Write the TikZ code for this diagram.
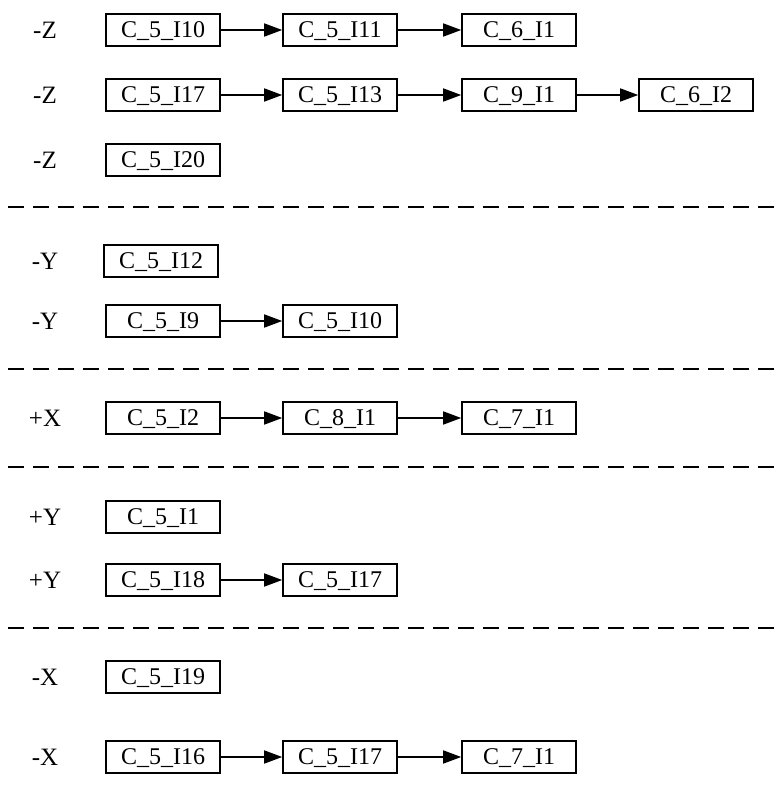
\documentclass[tikz,border=0pt]{standalone}
\usepackage{fontspec}
\setmainfont{Liberation Serif}
\usetikzlibrary{arrows.meta}
\begin{document}
\begin{tikzpicture}[x=1pt,y=-1pt,
 box/.style={draw,line width=1.6pt,minimum width=114pt,minimum height=32pt,inner sep=0pt,
   text height=15.5pt,text depth=0pt,font=\fontsize{24}{26}\selectfont},
 lab/.style={inner sep=0pt,text height=16.5pt,text depth=0pt,font=\fontsize{25}{28}\selectfont},
 arr/.style={-{Triangle[length=18pt,width=13pt]},line width=1.6pt},
 sep/.style={dash pattern=on 16pt off 9pt,line width=1.8pt}]
\useasboundingbox (0,0) rectangle (777,803);
% -Z group
\node[lab] (l1) at (45,30) {-Z};
\node[box] (a1) at (163,30) {C\_5\_I10};
\node[box] (a2) at (340,30) {C\_5\_I11};
\node[box] (a3) at (519,30) {C\_6\_I1};
\draw[arr] (a1) -- (a2);
\draw[arr] (a2) -- (a3);
\node[lab] (l2) at (45,95) {-Z};
\node[box] (b1) at (163,95) {C\_5\_I17};
\node[box] (b2) at (340,95) {C\_5\_I13};
\node[box] (b3) at (519,95) {C\_9\_I1};
\node[box] (b4) at (696,95) {C\_6\_I2};
\draw[arr] (b1) -- (b2);
\draw[arr] (b2) -- (b3);
\draw[arr] (b3) -- (b4);
\node[lab] (l3) at (45,160) {-Z};
\node[box] (c1) at (163,160) {C\_5\_I20};
\draw[sep] (8,207) -- (777,207);
% -Y group
\node[lab] (l4) at (45,261) {-Y};
\node[box] (d1) at (161,261) {C\_5\_I12};
\node[lab] (l5) at (45,321) {-Y};
\node[box] (e1) at (163,321) {C\_5\_I9};
\node[box] (e2) at (340,321) {C\_5\_I10};
\draw[arr] (e1) -- (e2);
\draw[sep] (8,369) -- (777,369);
% +X group
\node[lab] (l6) at (45,418) {+X};
\node[box] (f1) at (163,418) {C\_5\_I2};
\node[box] (f2) at (340,418) {C\_8\_I1};
\node[box] (f3) at (519,418) {C\_7\_I1};
\draw[arr] (f1) -- (f2);
\draw[arr] (f2) -- (f3);
\draw[sep] (8,467) -- (777,467);
% +Y group
\node[lab] (l7) at (45,517) {+Y};
\node[box] (g1) at (163,517) {C\_5\_I1};
\node[lab] (l8) at (45,580) {+Y};
\node[box] (h1) at (163,580) {C\_5\_I18};
\node[box] (h2) at (340,580) {C\_5\_I17};
\draw[arr] (h1) -- (h2);
\draw[sep] (8,628) -- (777,628);
% -X group
\node[lab] (l9) at (45,677) {-X};
\node[box] (i1) at (163,677) {C\_5\_I19};
\node[lab] (l10) at (45,757) {-X};
\node[box] (j1) at (163,757) {C\_5\_I16};
\node[box] (j2) at (340,757) {C\_5\_I17};
\node[box] (j3) at (519,757) {C\_7\_I1};
\draw[arr] (j1) -- (j2);
\draw[arr] (j2) -- (j3);
\end{tikzpicture}
\end{document}
